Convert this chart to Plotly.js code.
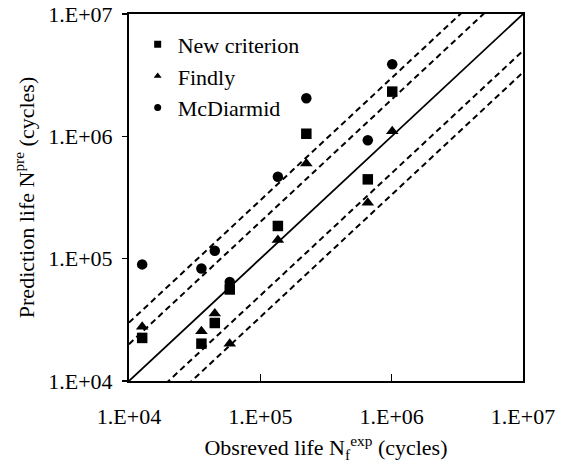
<!DOCTYPE html>
<html>
<head>
<meta charset="utf-8">
<script src="https://cdn.plot.ly/plotly-3.0.1.min.js"></script>
<style>html,body{margin:0;padding:0;background:#fff;}#chart{width:564px;height:463px;}</style>
</head>
<body>
<div id="chart"></div>
<script>
// Observed life (cycles)
const observed = [1.26e4, 3.56e4, 4.5e4, 5.85e4, 1.36e5, 2.24e5, 6.58e5, 1.01e6];
// Predicted life (cycles)
const newCriterion = [2.25e4, 2.02e4, 2.98e4, 5.6e4, 1.85e5, 1.05e6, 4.45e5, 2.32e6];
const findly = [2.77e4, 2.55e4, 3.57e4, 2.02e4, 1.42e5, 6.0e5, 2.86e5, 1.1e6];
const mcDiarmid = [8.98e4, 8.3e4, 1.16e5, 6.46e4, 4.67e5, 2.05e6, 9.3e5, 3.88e6];
// reference lines y = factor * x
const bandFactors = [3, 2, 1, 1/2, 1/3];
const lineEnds = [1e4, 1e7];
const tickVals = [1e4, 1e5, 1e6, 1e7];
const tickText = ['1.E+04', '1.E+05', '1.E+06', '1.E+07'];
const seriesNames = ['New criterion', 'Findly', 'McDiarmid'];
const seriesValues = [newCriterion, findly, mcDiarmid];
const seriesSymbols = ['square', 'triangle-up', 'circle'];

const mkFont = () => ({family: "'Liberation Serif', 'Times New Roman', serif", size: 22, color: '#000'});

const traces = [];
bandFactors.forEach(f => {
  traces.push({
    x: lineEnds, y: lineEnds.map(v => v * f), mode: 'lines', showlegend: false,
    hoverinfo: 'skip', line: {color: '#000', width: f === 1 ? 1.8 : 2, dash: f === 1 ? 'solid' : '6px,4px'}
  });
});
seriesNames.forEach((name, i) => {
  traces.push({x: observed, y: seriesValues[i], mode: 'markers', name: name, showlegend: false,
    marker: {symbol: seriesSymbols[i], size: i === 1 ? 11 : 10.5, color: '#000'}});
});
// legend entries with smaller symbols, as in the reference
seriesNames.forEach((name, i) => {
  traces.push({x: [null], y: [null], mode: 'markers', name: name, showlegend: true,
    marker: {symbol: seriesSymbols[i], size: 7, color: '#000'}});
});

const layout = {
  width: 564, height: 463,
  margin: {l: 129, r: 41, t: 14, b: 82},
  paper_bgcolor: '#fff', plot_bgcolor: '#fff',
  font: mkFont(),
  showlegend: true,
  legend: {x: 0.022, y: 0.974, xanchor: 'left', yanchor: 'top', bgcolor: 'rgba(0,0,0,0)',
    font: mkFont(), tracegroupgap: 0, itemwidth: 30},
  xaxis: {
    type: 'log', range: [4, 7], tickvals: tickVals, ticktext: tickText,
    ticks: 'inside', ticklen: 7, tickwidth: 1.5, tickcolor: '#000',
    showgrid: false, zeroline: false, showline: true, linecolor: '#000', linewidth: 2, mirror: true,
    ticklabelstandoff: 15, tickfont: mkFont(),
    title: {text: 'Obsreved life N<sub>f</sub><sup>exp</sup> (cycles)', font: mkFont(), standoff: 12}
  },
  yaxis: {
    type: 'log', range: [4, 7], tickvals: tickVals, ticktext: tickText,
    ticks: 'outside', ticklen: 5, tickwidth: 1.5, tickcolor: '#000',
    showgrid: false, zeroline: false, showline: true, linecolor: '#000', linewidth: 2, mirror: true,
    ticklabelstandoff: 5, tickfont: mkFont(),
    title: {text: 'Prediction life N<sup>pre</sup> (cycles)', font: mkFont(), standoff: 8}
  }
};

Plotly.newPlot('chart', traces, layout, {displayModeBar: false, staticPlot: true});
</script>
</body>
</html>
